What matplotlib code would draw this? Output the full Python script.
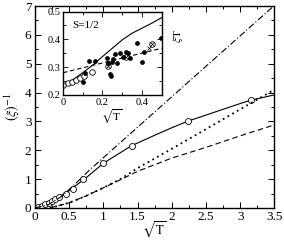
import matplotlib
matplotlib.use("Agg")
import matplotlib.pyplot as plt
from matplotlib.ticker import MultipleLocator

plt.rcParams['font.family'] = ['Liberation Serif', 'DejaVu Serif']
plt.rcParams['mathtext.fontset'] = 'stix'

# main panel: open circles on the solid curve
circ_x = [0.05, 0.1, 0.15, 0.2, 0.25, 0.3, 0.35, 0.45, 0.55, 0.7, 1.0, 1.414, 2.236, 3.162]
circ_y = [0.02, 0.07, 0.13, 0.19, 0.24, 0.30, 0.38, 0.50, 0.65, 0.99, 1.55, 2.16, 3.01, 3.74]

solid_x = [0.0, 0.25, 0.5, 0.75, 1.0, 1.414, 1.75, 2.0, 2.236, 2.5, 3.0, 3.162, 3.5]
solid_y = [0.0, 0.24, 0.60, 1.05, 1.55, 2.16, 2.52, 2.78, 3.01, 3.22, 3.62, 3.74, 3.92]

dashdot_x = [0.0, 0.2, 0.4, 0.6, 0.8, 3.5]
dashdot_y = [0.0, 0.12, 0.42, 0.86, 1.32, 7.02]

dotted_x = [0.22, 0.5, 0.75, 1.0, 1.25, 1.5, 2.0, 2.5, 3.0, 3.5]
dotted_y = [0.0, 0.18, 0.42, 0.70, 1.00, 1.38, 2.05, 2.73, 3.42, 4.10]

dashed_x = [0.22, 0.5, 0.75, 1.0, 1.25, 1.5, 2.0, 2.5, 3.0, 3.5]
dashed_y = [0.0, 0.18, 0.42, 0.70, 0.98, 1.27, 1.73, 2.10, 2.50, 2.88]

x_ticks = [0, 0.5, 1, 1.5, 2, 2.5, 3, 3.5]
x_labels = ['0', '0.5', '1', '1.5', '2', '2.5', '3', '3.5']
y_ticks = [0, 1, 2, 3, 4, 5, 6, 7]

# inset data
in_solid_x = [0.0, 0.05, 0.1, 0.15, 0.2, 0.25, 0.3, 0.35, 0.4, 0.45, 0.5]
in_solid_y = [0.235, 0.255, 0.280, 0.307, 0.338, 0.368, 0.398, 0.422, 0.44, 0.458, 0.478]

in_dashed_x = [0.0, 0.5]
in_dashed_y = [0.28, 0.368]

in_open_x = [0.002, 0.027, 0.044, 0.066, 0.086, 0.107, 0.146]
in_open_y = [0.236, 0.242, 0.248, 0.254, 0.260, 0.268, 0.283]

in_otimes_x = [0.227, 0.318, 0.45]
in_otimes_y = [0.304, 0.335, 0.383]

in_cross_x = [0.438]
in_cross_y = [0.368]

in_dots_x = [0.10, 0.112, 0.134, 0.162, 0.225, 0.227, 0.239, 0.244, 0.247, 0.255, 0.264,
             0.273, 0.289, 0.306, 0.32, 0.332, 0.34, 0.374, 0.40, 0.41, 0.498]
in_dots_y = [0.248, 0.278, 0.323, 0.323, 0.332, 0.314, 0.275, 0.268, 0.32, 0.329, 0.346,
             0.316, 0.35, 0.338, 0.356, 0.352, 0.332, 0.386, 0.32, 0.355, 0.405]

in_x_ticks = [0, 0.2, 0.4]
in_x_labels = ['0', '0.2', '0.4']
in_y_ticks = [0.2, 0.3, 0.4, 0.5]
in_y_labels = ['0.2', '0.3', '0.4', '0.5']

fig = plt.figure(figsize=(2.84, 2.41), dpi=100)
ax = fig.add_axes([0.123, 0.137, 0.843, 0.838])

ax.plot(solid_x, solid_y, '-', color='black', lw=0.8)
ax.plot(circ_x, circ_y, 'o', mfc='white', mec='black', ms=4.3, mew=0.6)
ax.plot(dashdot_x, dashdot_y, color='black', lw=0.8, ls=(0, (6, 2, 1, 2)))
ax.plot(dotted_x, dotted_y, color='black', lw=1.3, ls=(0, (1, 2)))
ax.plot(dashed_x, dashed_y, color='black', lw=0.8, ls=(0, (5, 3)))

ax.set_xlim(0, 3.5)
ax.set_ylim(0, 7)
ax.set_xticks(x_ticks)
ax.set_xticklabels(x_labels, fontsize=9.5)
ax.set_yticks(y_ticks)
ax.set_yticklabels([str(i) for i in y_ticks], fontsize=9.5)
ax.xaxis.set_minor_locator(MultipleLocator(0.25))
ax.yaxis.set_minor_locator(MultipleLocator(0.5))
ax.tick_params(which='both', direction='in', top=True, right=True, width=0.7)
ax.tick_params(which='major', length=4.5, pad=2.5)
ax.tick_params(which='minor', length=2.5)
for s in ax.spines.values():
    s.set_linewidth(1.0)
ax.set_xlabel(r'$\sqrt{\mathrm{T}}$', fontsize=9, labelpad=-3)
ax.set_ylabel(r'$(\xi)^{-1}$', fontsize=10, labelpad=2)

# inset
axi = fig.add_axes([0.222, 0.606, 0.347, 0.346])
axi.plot(in_solid_x, in_solid_y, '-', color='black', lw=0.8)
axi.plot(in_dashed_x, in_dashed_y, color='black', lw=0.8, ls=(0, (4, 2.5)))
axi.plot(in_open_x, in_open_y, 'o', mfc='white', mec='black', ms=4.0, mew=0.6)
axi.plot(in_otimes_x, in_otimes_y, 'o', mfc='white', mec='black', ms=4.0, mew=0.6)
axi.plot(in_otimes_x, in_otimes_y, 'x', color='black', ms=2.3, mew=0.5)
axi.plot(in_cross_x, in_cross_y, 'x', color='black', ms=2.5, mew=0.5)
axi.plot(in_dots_x, in_dots_y, 'o', color='black', ms=2.4)
axi.text(0.045, 0.44, 'S=1/2', fontsize=8)

axi.set_xlim(0, 0.5)
axi.set_ylim(0.2, 0.5)
axi.set_xticks(in_x_ticks)
axi.set_xticklabels(in_x_labels, fontsize=7.5)
axi.xaxis.set_minor_locator(MultipleLocator(0.1))
axi.set_yticks(in_y_ticks)
axi.set_yticklabels(in_y_labels, fontsize=7.5)
axi.yaxis.set_minor_locator(MultipleLocator(0.05))
axi.tick_params(which='both', direction='in', top=True, right=True, width=0.6)
axi.tick_params(which='major', length=3.5, pad=2)
axi.tick_params(which='minor', length=2)
for s in axi.spines.values():
    s.set_linewidth(1.0)
axi.set_xlabel(r'$\sqrt{\mathrm{T}}$', fontsize=8, labelpad=1)
axi.yaxis.set_label_position('right')
axi.set_ylabel(r'$\xi\mathrm{T}$', fontsize=8, rotation=90)
axi.yaxis.set_label_coords(1.1, 0.7)

fig.savefig('out.png', dpi=100)
